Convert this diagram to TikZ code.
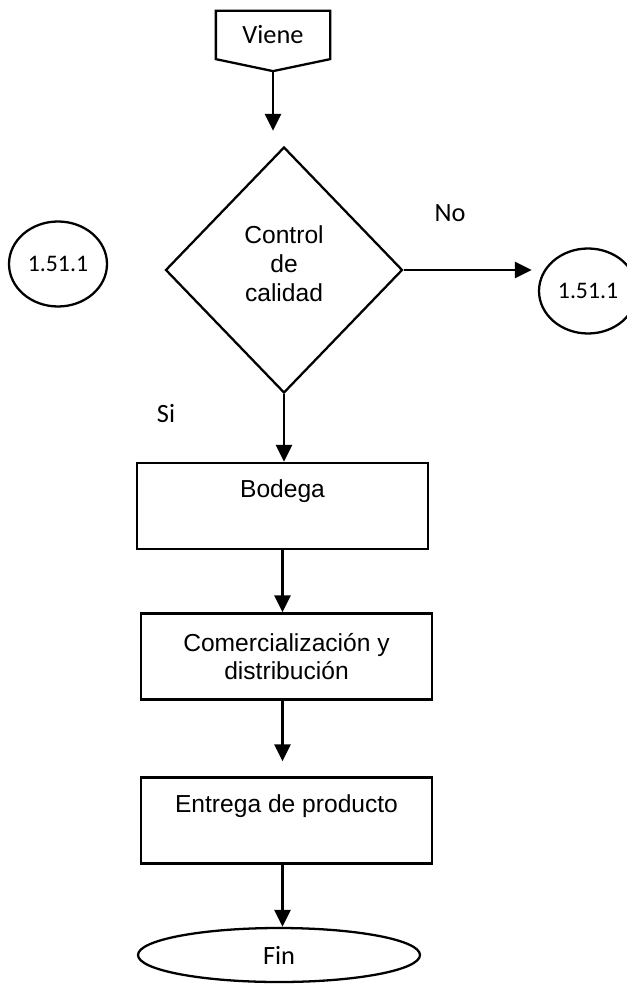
\documentclass[tikz,border=0pt]{standalone}
\usepackage{fontspec}
\setmainfont{Liberation Sans}
\newfontfamily\lblfont{Carlito}
\usetikzlibrary{calc,shapes.geometric,arrows.meta}

\begin{document}
\begin{tikzpicture}[line width=1.3pt, >={Triangle[length=0.34cm,width=0.32cm]}]
    \tikzstyle{bnode} = [draw, rectangle, minimum width=5.82cm, minimum height=1.72cm, inner sep=2pt, align=center, font=\fontsize{14}{15.5}\selectfont]
    \tikzstyle{dnode} = [draw, diamond, minimum width=4.74cm, minimum height=4.92cm, inner sep=0pt, align=center, font=\fontsize{14}{16.5}\selectfont]
    \tikzstyle{cnode} = [draw, ellipse, minimum width=1.96cm, minimum height=1.70cm, inner sep=0pt, font=\lblfont\fontsize{13.5}{15}\selectfont]
    \tikzstyle{lnode} = [inner sep=0pt, font=\lblfont\fontsize{15}{17}\selectfont]
    \tikzstyle{flow} = [->, line width=1.6pt]
    \useasboundingbox (0,0) rectangle (12.52,-19.70);

    % off page connector
    \node[lnode, minimum width=2.24cm, minimum height=0.92cm] (viene) at (5.46,-0.70) {Viene};
    \draw (viene.north west) -- (viene.north east) -- (viene.south east)
      -- ($(viene.south)+(0,-0.24)$) coordinate (vienept) -- (viene.south west) -- cycle;

    % decision
    \node[dnode] (dec) at (5.68,-5.40) {Control\\de\\calidad\\[-9pt]\mbox{}};
    \node[cnode] (outL) at (1.16,-5.28) {1.51.1};
    \node[cnode] (outR) at (11.76,-5.82) {1.51.1};
    \node[lnode] (no) at (9.00,-4.26) {No};
    \node[lnode] (si) at (3.32,-8.28) {Si};

    % process boxes
    \node[bnode] (bodega) at (5.65,-10.12) {Bodega\\[4pt]\mbox{}};
    \node[bnode] (comerc) at (5.73,-13.13) {Comercialización y\\distribución};
    \node[bnode] (entrega) at (5.73,-16.41) {Entrega de producto\\[4pt]\mbox{}};
    \node[lnode, draw, ellipse, minimum width=5.64cm, minimum height=1.08cm] (fin) at (5.58,-19.10) {Fin};

    \draw[flow, shorten >=0.3cm] (vienept) -- (vienept |- dec.north);
    \draw[flow, shorten >=0.12cm] (dec.east) -- (dec.east -| outR.west);
    \draw[flow] (dec.south) -- (dec.south |- bodega.north);
    \draw[flow] (bodega.south) -- (bodega.south |- comerc.north);
    \draw[flow, shorten >=0.3cm] (bodega.south |- comerc.south) -- (bodega.south |- entrega.north);
    \draw[flow] (bodega.south |- entrega.south) -- (bodega.south |- fin.north);
  \end{tikzpicture}
\end{document}
